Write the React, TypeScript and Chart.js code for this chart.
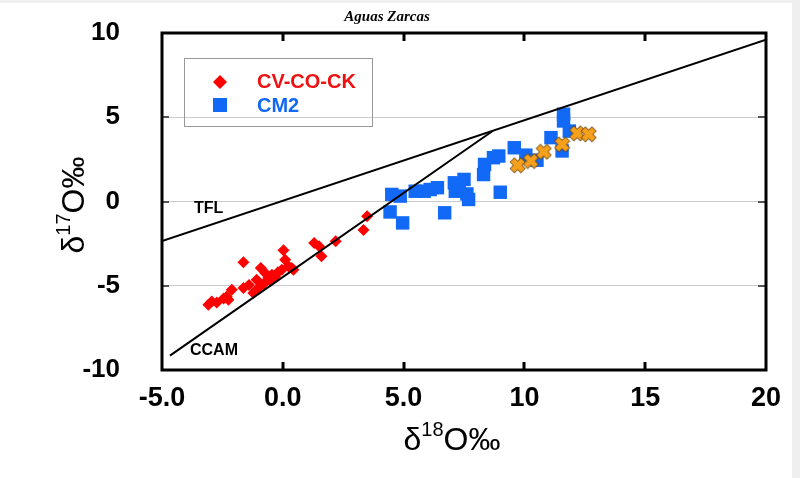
import React, { useEffect, useRef } from 'react';
import { Chart, registerables } from 'chart.js';

Chart.register(...registerables);

// ---- data ----
const chartTitle = 'Aguas Zarcas';
const seriesNames = ['CV-CO-CK', 'CM2'];

const redPoints: [number, number][] = [
  [-3.08, -6.13], [-2.94, -5.93], [-2.73, -5.99], [-2.45, -5.75], [-2.32, -5.64],
  [-2.25, -5.83], [-2.11, -5.24], [-1.63, -3.61], [-1.63, -5.14], [-1.4, -4.95],
  [-1.22, -5.43], [-1.08, -4.64], [-1.01, -5.14], [-0.91, -3.95], [-0.8, -4.9],
  [-0.73, -4.24], [-0.6, -4.54], [-0.5, -4.7], [-0.45, -4.35], [-0.32, -4.45],
  [-0.2, -4.2], [-0.04, -4.05], [0.03, -2.9], [0.1, -3.45], [0.23, -3.85],
  [0.37, -3.95], [0.44, -4.05], [1.3, -2.46], [1.5, -2.66], [1.6, -3.25],
  [2.19, -2.36], [3.34, -1.69], [3.49, -0.87],
];

const bluePoints: [number, number][] = [
  [4.51, 0.42], [4.86, 0.32], [4.44, -0.62], [4.96, -1.27], [5.48, 0.61],
  [5.85, 0.61], [6.1, 0.71], [6.4, 0.82], [6.7, -0.67], [7.1, 1.11],
  [7.5, 1.31], [7.14, 0.61], [7.3, 0.9], [7.62, 0.45], [7.69, 0.12],
  [8.31, 1.6], [8.35, 2.2], [8.72, 2.6], [8.94, 2.7], [9.0, 0.55],
  [9.58, 3.19], [10.06, 2.75], [10.52, 2.45], [11.1, 3.79], [11.62, 5.18],
  [11.62, 4.78], [11.56, 3.0], [11.86, 4.18],
];

const orangePoints: [number, number][] = [
  [9.72, 2.15], [10.27, 2.4], [10.8, 2.95], [11.56, 3.39], [12.18, 4.04], [12.66, 3.99],
];

const tflLine: [number, number][] = [[-5, -2.35], [20, 9.6]];
const ccamLine: [number, number][] = [[-4.67, -9.15], [8.7, 4.2]];
const lineLabels = ['TFL', 'CCAM'];

const xTicks = [-5, 0, 5, 10, 15, 20];
const yTicks = [-10, -5, 0, 5, 10];

const RED = '#ff0000';
const BLUE = '#1269f5';
const SANS = "'Liberation Sans', Arial, sans-serif";

function makeCross(size: number) {
  const c = document.createElement('canvas');
  c.width = size;
  c.height = size;
  const ctx = c.getContext('2d')!;
  const h = size / 2;
  const L = h - 1.2;
  const w = 2.7;
  const arm = (a: number) => {
    ctx.save();
    ctx.translate(h, h);
    ctx.rotate(a);
    ctx.beginPath();
    ctx.rect(-L, -w, 2 * L, 2 * w);
    ctx.restore();
  };
  ctx.lineWidth = 1.3;
  ctx.strokeStyle = '#5a3a08';
  ctx.fillStyle = '#f7a01c';
  [Math.PI / 4, -Math.PI / 4].forEach((a) => { arm(a); ctx.stroke(); });
  [Math.PI / 4, -Math.PI / 4].forEach((a) => { arm(a); ctx.fill(); });
  return c;
}

function drawDeltaLabel(ctx: CanvasRenderingContext2D, sup: string) {
  const big = `32px ${SANS}`;
  const small = `20px ${SANS}`;
  ctx.font = big;
  const wD = ctx.measureText('δ').width;
  const wO = ctx.measureText('O‰').width;
  ctx.font = small;
  const wS = ctx.measureText(sup).width;
  const W = wD + wS + wO;
  let x = -W / 2;
  ctx.textAlign = 'left';
  ctx.textBaseline = 'alphabetic';
  ctx.font = big;
  ctx.fillText('δ', x, 0);
  x += wD;
  ctx.font = small;
  ctx.fillText(sup, x, -14);
  x += wS;
  ctx.font = big;
  ctx.fillText('O‰', x, 0);
}

const decor = {
  id: 'decor',
  beforeDraw(chart: any) {
    const ctx = chart.ctx as CanvasRenderingContext2D;
    ctx.save();
    ctx.fillStyle = '#efefef';
    ctx.fillRect(0, 0, chart.width, chart.height);
    ctx.fillStyle = '#ffffff';
    ctx.fillRect(0, 3, 792, chart.height - 3);
    ctx.restore();
  },
  afterDraw(chart: any) {
    const ctx = chart.ctx as CanvasRenderingContext2D;
    const { left, right, top, bottom } = chart.chartArea;
    const xs = chart.scales.x;
    const ys = chart.scales.y;
    ctx.save();

    // inward ticks
    ctx.strokeStyle = '#000';
    ctx.lineWidth = 3;
    xTicks.slice(1, -1).forEach((v) => {
      const px = Math.round(xs.getPixelForValue(v));
      ctx.beginPath();
      ctx.moveTo(px, top);
      ctx.lineTo(px, top + 8);
      ctx.moveTo(px, bottom);
      ctx.lineTo(px, bottom - 8);
      ctx.stroke();
    });
    ctx.strokeStyle = '#555';
    ctx.lineWidth = 2;
    yTicks.slice(1, -1).forEach((v) => {
      const py = Math.round(ys.getPixelForValue(v));
      ctx.beginPath();
      ctx.moveTo(left, py);
      ctx.lineTo(left + 7, py);
      ctx.moveTo(right, py);
      ctx.lineTo(right - 8, py);
      ctx.stroke();
    });

    // frame
    ctx.strokeStyle = '#000';
    ctx.lineWidth = 3;
    ctx.strokeRect(left, top, right - left, bottom - top);

    // title
    ctx.fillStyle = '#000';
    ctx.font = `italic bold 15px 'Liberation Serif', 'Times New Roman', serif`;
    ctx.textAlign = 'center';
    ctx.textBaseline = 'middle';
    ctx.fillText(chartTitle, 387, 17);

    // line labels
    ctx.font = `bold 16px ${SANS}`;
    ctx.textAlign = 'left';
    ctx.fillText(lineLabels[0], 194, 209);
    ctx.fillText(lineLabels[1], 190, 351);

    // legend
    ctx.strokeStyle = '#999';
    ctx.lineWidth = 1;
    ctx.strokeRect(184.5, 58.5, 188, 68);
    ctx.fillStyle = RED;
    ctx.beginPath();
    ctx.moveTo(220, 75);
    ctx.lineTo(227, 82);
    ctx.lineTo(220, 89);
    ctx.lineTo(213, 82);
    ctx.closePath();
    ctx.fill();
    ctx.fillStyle = BLUE;
    ctx.fillRect(213, 98, 14, 14);
    ctx.font = `bold 20px ${SANS}`;
    ctx.textBaseline = 'middle';
    ctx.fillStyle = '#ee1111';
    ctx.fillText(seriesNames[0], 257, 82);
    ctx.fillStyle = BLUE;
    ctx.fillText(seriesNames[1], 257, 106);

    // axis titles
    ctx.fillStyle = '#000';
    ctx.save();
    ctx.translate(452, 450);
    drawDeltaLabel(ctx, '18');
    ctx.restore();
    ctx.save();
    ctx.translate(84, 205);
    ctx.rotate(-Math.PI / 2);
    drawDeltaLabel(ctx, '17');
    ctx.restore();

    ctx.restore();
  },
};

export default function App() {
  const ref = useRef<HTMLCanvasElement>(null);
  useEffect(() => {
    if (!ref.current) return;
    const cross = makeCross(17);
    const toXY = (a: [number, number][]) => a.map(([x, y]) => ({ x, y }));
    const chart = new Chart(ref.current, {
      type: 'scatter',
      data: {
        datasets: [
          {
            label: 'TFL', data: toXY(tflLine), showLine: true, borderColor: '#000',
            borderWidth: 2, pointRadius: 0, order: 0,
          },
          {
            label: 'CCAM', data: toXY(ccamLine), showLine: true, borderColor: '#000',
            borderWidth: 2, pointRadius: 0, order: 0,
          },
          {
            label: 'X', data: toXY(orangePoints), pointStyle: cross as any, pointRadius: 8, order: 1,
          },
          {
            label: seriesNames[1], data: toXY(bluePoints), pointStyle: 'rect', pointRadius: 9.5,
            backgroundColor: BLUE, borderColor: BLUE, borderWidth: 0, order: 2,
          },
          {
            label: seriesNames[0], data: toXY(redPoints), pointStyle: 'rectRot', pointRadius: 6,
            backgroundColor: RED, borderColor: RED, borderWidth: 0, order: 3,
          },
        ],
      },
      options: {
        animation: false,
        responsive: false,
        layout: { padding: { left: 0, right: 34, top: 33, bottom: 0 } },
        plugins: {
          legend: { display: false },
          title: { display: false },
          tooltip: { enabled: false },
        },
        scales: {
          x: {
            type: 'linear', min: -5, max: 20,
            afterFit: (s: any) => { s.height = 108; s.paddingLeft = 0; s.paddingRight = 0; },
            ticks: {
              stepSize: 5, padding: 12, color: '#000', maxRotation: 0, autoSkip: false,
              font: { family: SANS, size: 27, weight: 'bold' },
              callback: (v: any) => (Math.abs(v) < 10 ? Number(v).toFixed(1) : String(v)),
            },
            grid: { display: false, drawTicks: false },
            border: { display: false },
          },
          y: {
            type: 'linear', min: -10, max: 10,
            afterFit: (s: any) => { s.width = 162; s.paddingTop = 0; s.paddingBottom = 0; },
            ticks: {
              stepSize: 5, padding: 42, color: '#000',
              font: { family: SANS, size: 26, weight: 'bold' },
              callback: (v: any) => String(v),
            },
            grid: {
              drawTicks: false, lineWidth: 1,
              color: (c: any) => (c.tick && Math.abs(c.tick.value) === 10 ? 'rgba(0,0,0,0)' : '#cccccc'),
            },
            border: { display: false },
          },
        },
      } as any,
      plugins: [decor],
    });
    return () => chart.destroy();
  }, []);
  return (
    <div style={{ position: 'fixed', left: 0, top: 0, width: 800, height: 478 }}>
      <canvas ref={ref} width={800} height={478} style={{ display: 'block' }} />
    </div>
  );
}
